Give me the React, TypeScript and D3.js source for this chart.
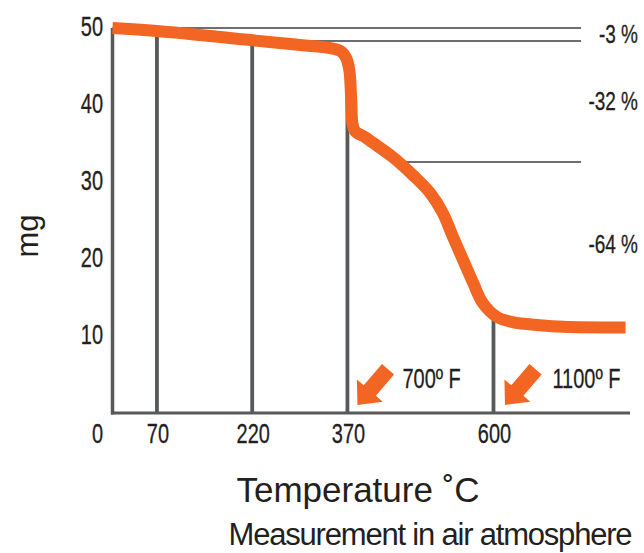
import React from 'react';
import * as d3 from 'd3';

// mass loss curve (°C, mg)
const temps = [0, 70, 221, 296, 343, 359, 368, 373, 376, 378, 382, 398, 410, 442, 473, 500, 520, 536, 552, 568, 583, 605, 630, 673, 710, 808];
const masses = [50, 49.6, 48.4, 47.8, 47.4, 47.0, 46.1, 44.5, 40.6, 37.5, 36.6, 35.8, 35.1, 33.2, 30.9, 28.6, 26.0, 22.9, 19.9, 16.9, 14.3, 12.5, 11.8, 11.4, 11.2, 11.1];

const gridTemps = [70, 220, 370, 600];
const xTicks = [0, 70, 220, 370, 600];
const yTicks = [10, 20, 30, 40, 50];

// loss levels and the labels between them
const levels = [50, 48.3, 32.6, 11.1];
const lossLabels = ['-3 %', '-32 %', '-64 %'];

const arrowTemps = [370, 600];
const arrowLabels = ['700º F', '1100º F'];

const W = 644;
const H = 553;
const ORANGE = '#f26522';
const GREY = '#58595b';
const INK = '#231f20';
const sans = "'Liberation Sans', Arial, Helvetica, sans-serif";

const x = d3.scaleLinear().domain([0, 815]).range([112.5, 630]);
const y = d3.scaleLinear().domain([0, 50]).range([413, 28]);

// mass at a given temperature (piecewise linear through the read points)
const massAt = d3.scaleLinear().domain(temps).range(masses);
const tempAt = d3.scaleLinear().domain(masses.slice(0, -1)).range(temps.slice(0, -1));

const line = d3.line<number>()
  .x((d, i) => x(temps[i]))
  .y(d => y(d))
  .curve(d3.curveCatmullRom.alpha(0.5));

// block arrow, tip at origin, pointing along +x
const arrowPath = () => {
  const pts: [number, number][] = [[0, 0], [-19, -17], [-19, -8], [-47, -8], [-47, 8], [-19, 8], [-19, 17]];
  return 'M' + pts.map(p => p.join(',')).join('L') + 'Z';
};

// narrow digits: no condensed face installed, so squeeze a regular one
const Cond = ({ x, y, anchor = 'start', size = 27, sx = 0.74, central = false, children }: any) => (
  <text transform={`translate(${x},${y}) scale(${sx},1)`} textAnchor={anchor}
    dominantBaseline={central ? 'central' : undefined}
    fontFamily={sans} fontSize={size} fill={INK} stroke={INK} strokeWidth={0.3}>{children}</text>
);

export default function App() {
  const refEnd = 738;
  return (
    <svg width={W} height={H} style={{ position: 'absolute', left: 0, top: 0, background: '#fff' }}>
      {/* reference levels */}
      {levels.slice(0, 3).map((lv, i) => (
        <line key={'r' + i}
          x1={x(i === 0 ? 0 : tempAt(lv))} x2={x(refEnd)}
          y1={y(lv)} y2={y(lv)}
          stroke="#6d6e71" strokeWidth={2} />
      ))}

      {/* vertical gridlines up to the curve */}
      {gridTemps.map(t => (
        <line key={'g' + t} x1={x(t)} x2={x(t)} y1={y(0)} y2={y(massAt(t))}
          stroke={GREY} strokeWidth={3.8} />
      ))}

      {/* axes */}
      <line x1={x(0)} x2={x(0)} y1={y(0) + 1.5} y2={y(50)} stroke={GREY} strokeWidth={3.5} />
      <line x1={x(0) - 1.5} x2={x(815)} y1={y(0)} y2={y(0)} stroke={GREY} strokeWidth={3.2} />

      {/* curve */}
      <path d={line(masses) || ''} fill="none" stroke={ORANGE} strokeWidth={12} strokeLinejoin="round" />

      {/* arrows */}
      {arrowTemps.map((t, i) => (
        <g key={'a' + t}>
          <path d={arrowPath()} fill={ORANGE}
            transform={`translate(${x(t) + 10 + i * 1.5},${y(0) - 8}) rotate(130.6)`} />
          <Cond x={x(t) + 55 + i * 4} y={388} size={27} sx={0.74}>{arrowLabels[i]}</Cond>
        </g>
      ))}

      {/* y tick labels */}
      {yTicks.map(v => (
        <Cond key={'y' + v} x={103} y={y(v) - 2} anchor="end" central>{v}</Cond>
      ))}

      {/* x tick labels */}
      {xTicks.map(v => (
        <Cond key={'x' + v} x={x(v) + (v === 0 ? -15 : 1)} y={443} anchor="middle">{v}</Cond>
      ))}

      {/* loss labels */}
      {lossLabels.map((s, i) => (
        <Cond key={'l' + i} x={638} y={(y(levels[i]) + y(levels[i + 1])) / 2} anchor="end"
          size={25} sx={0.76} central>{s}</Cond>
      ))}

      {/* axis titles */}
      <text transform="translate(38,236) rotate(-90)" textAnchor="middle" fontFamily={sans} fontSize={31} fill={INK}>mg</text>
      <text x={358} y={502} textAnchor="middle" fontFamily={sans} fontSize={35} fill={INK}>Temperature ˚C</text>
      <text x={430} y={545} textAnchor="middle" fontFamily={sans} fontSize={31} letterSpacing={-1.2} fill={INK}>Measurement in air atmosphere</text>
    </svg>
  );
}
